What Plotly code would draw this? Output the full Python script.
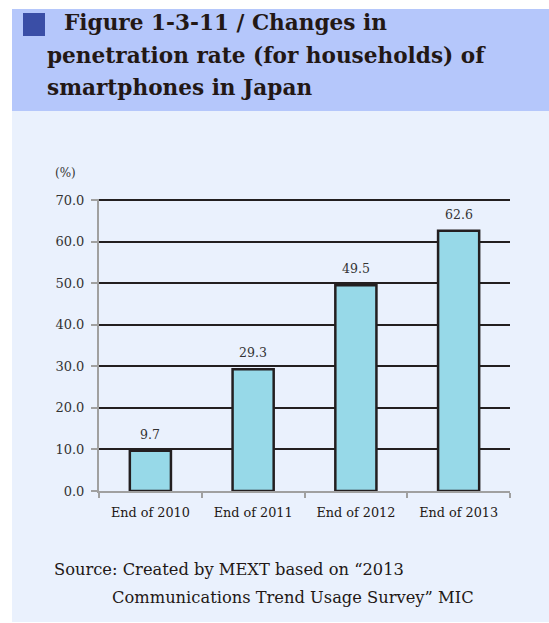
import plotly.graph_objects as go

# Data
categories = ["End of 2010", "End of 2011", "End of 2012", "End of 2013"]
penetration = [9.7, 29.3, 49.5, 62.6]
y_ticks = [0, 10, 20, 30, 40, 50, 60, 70]
y_tick_labels = ["0.0", "10.0", "20.0", "30.0", "40.0", "50.0", "60.0", "70.0"]

W, H = 549, 623
L, R, T, B = 99, 510, 199, 491  # plot area in pixels


def px(x):
    return (x - L) / (R - L)


def py(y):
    return (B - y) / (B - T)


SERIF = "DejaVu Serif, Liberation Serif, serif"
DARK = "#231f20"
TEXT = "#231815"

fig = go.Figure()
fig.add_trace(go.Bar(
    x=categories,
    y=penetration,
    width=0.4,
    marker=dict(color="#97d9e8", line=dict(color=DARK, width=2.5)),
    hoverinfo="skip",
))

shapes = [
    # page panel
    dict(type="rect", xref="paper", yref="paper", layer="below",
         x0=px(12), x1=px(549), y0=py(622), y1=py(111),
         fillcolor="#eaf1fd", line=dict(width=0)),
    # title band
    dict(type="rect", xref="paper", yref="paper", layer="below",
         x0=px(12), x1=px(549), y0=py(111), y1=py(9),
         fillcolor="#b5c7fb", line=dict(width=0)),
    # title marker square
    dict(type="rect", xref="paper", yref="paper", layer="below",
         x0=px(23), x1=px(45), y0=py(36), y1=py(13),
         fillcolor="#3a4ea6", line=dict(width=0)),
]

annotations = [
    dict(text="<b>Figure 1-3-11 / Changes in</b>", x=px(62), y=py(37),
         xanchor="left", yanchor="bottom"),
    dict(text="<b>penetration rate (for households) of</b>", x=px(45), y=py(70),
         xanchor="left", yanchor="bottom"),
    dict(text="<b>smartphones in Japan</b>", x=px(45), y=py(102),
         xanchor="left", yanchor="bottom"),
]
for a in annotations:
    a.update(xref="paper", yref="paper", showarrow=False,
             font=dict(family=SERIF, size=21.6, color=TEXT))

# value labels above each bar
for c, v in zip(categories, penetration):
    annotations.append(dict(
        text=f"{v:.1f}", x=c, y=v, xref="x", yref="y",
        yanchor="bottom", yshift=7, showarrow=False,
        font=dict(family=SERIF, size=12.5, color="#333333"),
    ))

annotations += [
    dict(text="(%)", x=px(53), y=py(173), xref="paper", yref="paper",
         xanchor="left", yanchor="middle", showarrow=False,
         font=dict(family=SERIF, size=12, color="#333333")),
    dict(text="Source: Created by MEXT based on \u201c2013", x=px(52), y=py(569),
         xref="paper", yref="paper", xanchor="left", yanchor="middle",
         showarrow=False, font=dict(family=SERIF, size=16.3, color=TEXT)),
    dict(text="Communications Trend Usage Survey\u201d MIC", x=px(110), y=py(597),
         xref="paper", yref="paper", xanchor="left", yanchor="middle",
         showarrow=False, font=dict(family=SERIF, size=16.3, color=TEXT)),
]

fig.update_layout(
    width=W, height=H,
    margin=dict(l=L, r=W - R, t=T, b=H - B, pad=0),
    paper_bgcolor="white",
    plot_bgcolor="white",
    showlegend=False,
    shapes=shapes,
    annotations=annotations,
    xaxis=dict(
        showgrid=False,
        showline=True, linecolor="#a0a0a0", linewidth=2,
        ticks="outside", tickson="boundaries", ticklen=5,
        tickcolor="#a0a0a0", tickwidth=2,
        ticklabelstandoff=9,
        tickfont=dict(family=SERIF, size=12.8, color=TEXT),
        fixedrange=True,
    ),
    yaxis=dict(
        range=[0, 70.25],
        tickvals=y_ticks, ticktext=y_tick_labels,
        showgrid=True, gridcolor=DARK, gridwidth=2.2,
        zeroline=False,
        showline=True, linecolor="#a0a0a0", linewidth=2,
        ticks="outside", ticklen=6, tickcolor="#a0a0a0", tickwidth=2,
        ticklabelstandoff=4,
        tickfont=dict(family=SERIF, size=13, color="#333333"),
        fixedrange=True,
    ),
)

fig.write_html("out.html")
